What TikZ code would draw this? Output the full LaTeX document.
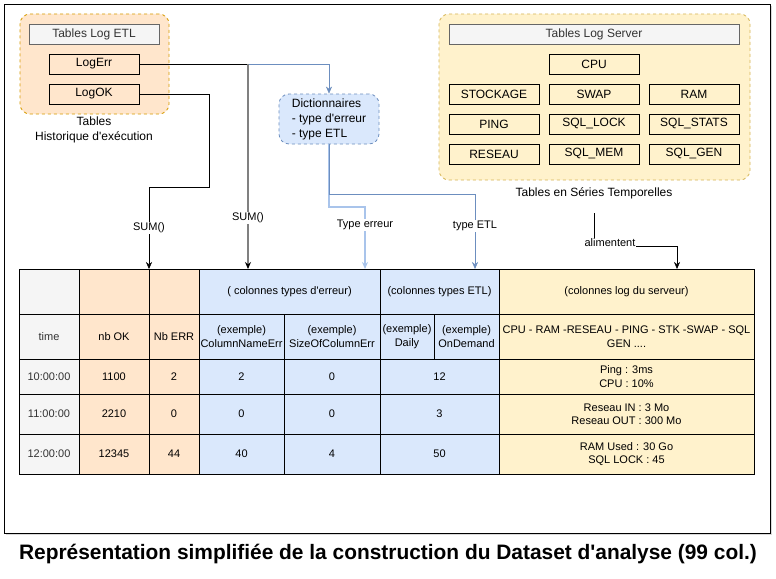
\documentclass[tikz,border=0pt]{standalone}
\usepackage{fontspec}
\setmainfont{Liberation Sans}
\newfontfamily\drawfont{Liberation Sans}
\usetikzlibrary{arrows.meta,shadows}
\definecolor{etlfill}{HTML}{FFE6CC}
\definecolor{etlline}{HTML}{D79B00}
\definecolor{srvfill}{HTML}{FFF2CC}
\definecolor{srvline}{HTML}{D6B656}
\definecolor{dictfill}{HTML}{DAE8FC}
\definecolor{dictline}{HTML}{6C8EBF}
\definecolor{lightline}{HTML}{A9C4EB}
\definecolor{headfill}{HTML}{F5F5F5}
\definecolor{headline}{HTML}{666666}
\definecolor{headtext}{HTML}{333333}
\begin{document}
\begin{tikzpicture}
[
    x=1pt, y=-1pt,
    font=\drawfont\fontsize{12}{15}\selectfont,
    box/.style={draw, minimum width=90, minimum height=20, inner sep=0pt, outer sep=0pt},
    head/.style={draw=headline, fill=headfill, text=headtext, minimum height=20, inner sep=0pt, outer sep=0pt},
    grp/.style={draw, dashed, rounded corners=10, line width=0.8pt, minimum width=#1},
    cell/.style={draw, anchor=north west, outer sep=0pt, inner sep=1pt, align=center, font=\drawfont\fontsize{11}{13.5}\selectfont},
    tcell/.style={cell, fill=headfill, text=headtext},
    ocell/.style={cell, fill=etlfill},
    bcell/.style={cell, fill=dictfill},
    ycell/.style={cell, fill=srvfill},
    elabel/.style={fill=white, text=black, inner sep=1pt, font=\drawfont\fontsize{11}{13}\selectfont},
    arr/.style={-{Stealth[length=7pt,width=6pt]}},
]
\useasboundingbox (0,0) rectangle (776,578);
\draw[fill=white, drop shadow={shadow xshift=2pt, shadow yshift=-2pt, opacity=.3}] (4,4) rectangle (770,533);

% tables log ETL
\node[grp=149, draw=etlline, fill=etlfill, minimum height=100] (etl) at (94.5,64) {};
\node[head, minimum width=130] (etlhead) at (94,34) {Tables Log ETL};
\node[box] (logerr) at (94,64) {LogErr};
\node[box] (logok) at (94,94) {LogOK};
\node[align=center] (histo) at (94,129.5) {Tables\\Historique d'exécution};

\node[grp=100, draw=dictline, fill=dictfill, minimum height=50, align=left] (dict) at (329,119)
    {Dictionnaires\\ - type d'erreur\\ - type ETL};

% tables log server
\node[grp=311, draw=srvline, fill=srvfill, minimum height=166] (srv) at (594.5,97) {};
\node[head, minimum width=290] (srvhead) at (594,34) {Tables Log Server};
\node[box] (cpu) at (594,64) {CPU};
\node[box] (stockage) at (494,94) {STOCKAGE};
\node[box] (swap) at (594,94) {SWAP};
\node[box] (ram) at (694,94) {RAM};
\node[box] (ping) at (494,124) {PING};
\node[box] (sqllock) at (594,124) {SQL\_LOCK};
\node[box] (sqlstats) at (694,124) {SQL\_STATS};
\node[box] (reseau) at (494,154) {RESEAU};
\node[box] (sqlmem) at (594,154) {SQL\_MEM};
\node[box] (sqlgen) at (694,154) {SQL\_GEN};
\node (series) at (594,193) {Tables en Séries Temporelles};

% dataset
\node[tcell, minimum width=60, minimum height=45] (h0) at (19,269) {};
\node[ocell, minimum width=70, minimum height=45] (h1) at (79,269) {};
\node[ocell, minimum width=50, minimum height=45] (h2) at (149,269) {};
\node[bcell, minimum width=181, minimum height=45] (h3) at (199,269) {( colonnes types d'erreur)};
\node[bcell, minimum width=119, minimum height=45] (h4) at (380,269) {(colonnes types ETL)};
\node[ycell, minimum width=255, minimum height=45] (h5) at (499,269) {(colonnes log du serveur)};

\node[tcell, minimum width=60, minimum height=45] (time) at (19,314) {time};
\node[ocell, minimum width=70, minimum height=45] (nbok) at (79,314) {nb OK};
\node[ocell, minimum width=50, minimum height=45] (nberr) at (149,314) {Nb ERR};
\node[bcell, minimum width=85, minimum height=45] (colname) at (199,314) {(exemple)\\ColumnNameErr};
\node[bcell, minimum width=96, minimum height=45] (colsize) at (284,314) {(exemple)\\SizeOfColumnErr};
\node[bcell, minimum width=54, minimum height=45] (daily) at (380,314) {(exemple)\\Daily};
\node[bcell, minimum width=65, minimum height=45] (ondemand) at (434,314) {(exemple)\\OnDemand};
\node[ycell, minimum width=255, minimum height=45] (srvcols) at (499,314) {CPU - RAM -RESEAU - PING - STK -SWAP - SQL\\GEN ....};

\foreach \n/\y/\h/\tm/\ok/\er/\ca/\cb/\et/\srv in {
    1/359/35/10:00:00/1100/2/2/0/12/{Ping : 3ms\\CPU : 10\%},
    2/394/40/11:00:00/2210/0/0/0/3/{Reseau IN : 3 Mo\\Reseau OUT : 300 Mo},
    3/434/40/12:00:00/12345/44/40/4/50/{RAM Used : 30 Go\\SQL LOCK : 45}}
{
    \node[tcell, minimum width=60, minimum height=\h] (tm\n) at (19,\y) {\tm};
    \node[ocell, minimum width=70, minimum height=\h] (ok\n) at (79,\y) {\ok};
    \node[ocell, minimum width=50, minimum height=\h] (er\n) at (149,\y) {\er};
    \node[bcell, minimum width=85, minimum height=\h] (ca\n) at (199,\y) {\ca};
    \node[bcell, minimum width=96, minimum height=\h] (cb\n) at (284,\y) {\cb};
    \node[bcell, minimum width=119, minimum height=\h] (et\n) at (380,\y) {\et};
    \node[ycell, minimum width=255, minimum height=\h] (sv\n) at (499,\y) {\srv};
}

% connectors
\coordinate (split) at (248,64);
\coordinate (sumin) at (248,269);
\coordinate (errin) at (365,269);
\coordinate (etlin) at (475,269);
\coordinate (srvin) at (677,269);

\draw[arr] (logok.east) -| (209,187) -| node[elabel, pos=.75] {SUM()} (h1.north east);
\draw (logerr.east) -- (split);
\draw[dictline, arr] (split) -| (dict.north);
\draw[gray, line width=2pt, -{Stealth[length=7pt,width=6pt,color=black]}] (split) -- node[elabel, pos=.75] {SUM()} (sumin);
\draw[lightline, line width=2pt, arr] (dict.south) |- (365,207) -- node[elabel, pos=.29] {Type erreur} (errin);
\draw[dictline, arr] (dict.south) |- (475,194) -- node[elabel, pos=.43] {type ETL} (etlin);
\draw[arr] ([yshift=-11pt]series.south) |- node[elabel, xshift=16pt, yshift=3pt] {alimentent} (677,246) -- (srvin);

\node[font=\drawfont\bfseries\fontsize{20.9}{24}\selectfont] (title) at (388,554)
    {Représentation simplifiée de la construction du Dataset d'analyse (99 col.)};
\end{tikzpicture}
\end{document}
